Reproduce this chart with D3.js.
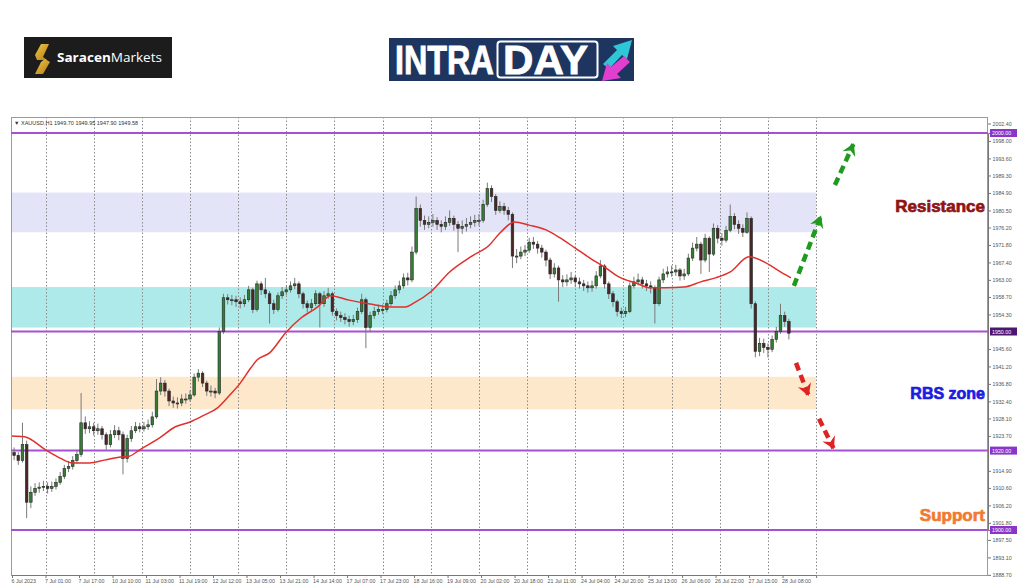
<!DOCTYPE html>
<html><head><meta charset="utf-8">
<script src="https://cdn.jsdelivr.net/npm/d3@7"></script>
<style>html,body{margin:0;padding:0;background:#fff;} svg{display:block;}</style>
</head><body>
<svg id="c" width="1024" height="587"></svg>
<script>
// ---------------- DATA ----------------
const symbolTitle = "\u25BC XAUUSD,H1  1949.70 1949.95 1947.90 1949.58";
const firstOpen = 1919.5;
// 2-hour candles (bar index in hours = 2k..2k+1)
const closes = [
1918.8,1917.5,1921.5,1907,1909.5,1910.5,1910.8,1911,1910.5,1911,
1912,1913.5,1915.5,1916,1917.5,1919,1927,1925.5,1926,1925,
1925.5,1924,1921.5,1924,1925,1924,1918,1923,1925,1926,
1925.5,1926,1926.5,1928.5,1935,1937,1935,1932.5,1932,1932,
1933,1933,1934,1938.5,1939.5,1937,1935,1935,1934.5,1950,
1958.5,1958,1958,1957.5,1957,1958,1960.5,1955.5,1962,1960.5,
1959.5,1957,1955.5,1959,1960,1960.5,1961.5,1962,1959.5,1957,
1956,1957,1959.5,1957,1959,1959.5,1955,1954,1953.5,1953,
1952.5,1953,1955,1958,1951,1954,1955,1955.5,1955.5,1957,
1959,1960.5,1961.5,1963.5,1963,1970,1981,1978,1977,1977.5,
1978,1977,1976.5,1977.5,1978.5,1977,1976,1976.5,1977,1977.5,
1978,1978,1982,1986,1984,1980.5,1981.5,1980.5,1979.5,1969,
1969,1970,1970.5,1972.5,1972,1971,1970,1968,1964.5,1966,
1963,1962.5,1963,1963.5,1962.5,1962,1961.5,1961,1961.5,1964,
1966.5,1962,1959.5,1957.5,1955,1954.5,1955,1961.5,1962.5,1963,
1962,1961.5,1961,1957,1963,1964.5,1965,1965,1965.5,1964,
1964.5,1968.5,1971,1972,1968,1973.5,1969.5,1976,1973.5,1973,
1975.5,1979,1977,1976,1975,1978.5,1957,1945,1947,1946,
1945.5,1948,1950,1954,1952.5,1949.58];
const highs = [
1920.8,1919.6,1927,1922.5,1911,1911.8,1912,1912.4,1912,1912.2,
1913,1914.6,1916.4,1917.4,1918.6,1920.2,1934.5,1928.6,1927.4,1927,
1926.8,1926.2,1924.6,1925.2,1926.4,1926,1924.8,1924,1926.2,1927.2,
1927,1927.2,1927.8,1929.8,1938,1938.5,1937.8,1935.6,1933.6,1933.4,
1934.2,1934.4,1935.2,1939.4,1940.5,1940,1937.6,1936.4,1935.8,1951,
1959.5,1959.4,1959.2,1959,1958.6,1959.2,1961.5,1961,1962.8,1962.6,
1963.5,1960.2,1958,1959.8,1961.2,1961.6,1962.6,1963.5,1962.6,1960,
1957.8,1958.2,1960.4,1960,1960.2,1961,1960,1955.8,1955,1954.6,
1954,1954.2,1956,1959.5,1958.6,1955,1956.2,1956.8,1956.8,1958,
1960.2,1961.6,1962.8,1964.6,1964.8,1971.4,1984,1982,1979.2,1979,
1979.6,1978.8,1978,1979,1980.5,1979.2,1977.8,1978,1978.6,1979,
1979.4,1979.6,1983.2,1987.5,1986.8,1984.6,1982.8,1982.4,1981.4,1980,
1970.8,1971.4,1971.8,1973.6,1973.8,1972.8,1971.8,1970.6,1968.6,1967.2,
1966.6,1964.2,1964.4,1965,1964.2,1963.6,1963,1962.6,1962.8,1965.2,
1968,1967,1962.6,1960.2,1958,1956,1956.2,1962.4,1963.8,1964.6,
1963.8,1963,1962.6,1961.6,1963.8,1965.8,1966.4,1966.6,1966.8,1966,
1965.8,1969.6,1972.4,1973.8,1972.6,1974.6,1974,1977.2,1976.8,1974.8,
1976.6,1982,1979.8,1978,1977,1980,1979,1957.6,1948.4,1948.2,
1947,1949,1951.2,1957,1955,1953.2];
const lows = [
1917.6,1916.4,1917,1903,1905.5,1908.6,1909.4,1909.8,1909.2,1909.6,
1910.2,1911.4,1912.8,1914.6,1915.2,1916.8,1918.4,1924.2,1924.4,1923.8,
1924,1922.8,1920.2,1920.8,1923.2,1922.6,1914,1917,1922.2,1924.4,
1924.6,1924.8,1925.2,1925.8,1928,1934,1933.6,1931.2,1930.8,1930.6,
1931.2,1931.8,1932.4,1933.6,1937.4,1936,1933.8,1933.6,1933.2,1934,
1949.4,1956.8,1956.6,1956.2,1955.8,1956.2,1957.4,1954.6,1955,1959.2,
1958.4,1952,1954.4,1955,1958.2,1959.2,1959.8,1960.6,1958.4,1955.8,
1954.8,1955.2,1956.4,1951,1956.2,1958.2,1954,1952.8,1952.4,1951.8,
1951.2,1951.6,1952.2,1954.4,1945.8,1949.8,1953.2,1954.2,1954.4,1954.8,
1956.4,1958.2,1959.6,1960.8,1961.6,1962.4,1969.4,1976.4,1975.6,1976,
1976.4,1975.6,1975,1975.6,1976.6,1975.4,1970,1974.6,1975.2,1976,
1976.4,1976.6,1977.4,1981.4,1982.6,1979.4,1979.8,1979.4,1978,1966,
1967.2,1968.2,1969,1969.8,1970.8,1969.6,1968.6,1966.4,1963.2,1963.6,
1957.5,1961.2,1961.4,1962,1961.2,1960.8,1960.2,1959.8,1960,1960.8,
1963.4,1960.8,1958.2,1956.2,1953.8,1953.4,1953.6,1954.6,1960.8,1961.6,
1960.8,1960.2,1959.6,1952,1956.4,1962.2,1963.6,1963.8,1964,1962.8,
1963,1964,1967.8,1970.2,1964.5,1967.4,1965,1969,1972.2,1971.6,
1972.4,1975,1975.8,1974.6,1973.8,1974.6,1955.8,1943.5,1943.8,1944.6,
1943.5,1944.8,1947.2,1949.4,1951.2,1948];
// moving average (read at hourly bar indices)
const maBars = [0,6,16,23,29,37,44,52,56,61,71,78,85,92,98,104,109,114,117,123,131,138,146,152,161,171,181,188,192,200,209,219,228,233,240,247,255,262,269,276,283,290,298,305,312,321,329,336,343,352,360,367,372];
const maValues = [1923.7,1923.5,1920.2,1918.1,1916.9,1916.9,1917.6,1918.4,1918.6,1920.2,1923.4,1926,1927.2,1929,1930.7,1934,1937,1940.8,1942.8,1944.6,1949.9,1953.4,1956.2,1959,1957.9,1956.9,1956.2,1956.2,1957.2,1960,1965,1968.8,1971.8,1974.8,1977.6,1976.8,1975.6,1973.5,1971,1968.5,1966.2,1963.7,1962.2,1961,1961,1961.2,1962.5,1963.5,1965,1968.8,1967.3,1965,1963.5];
const timeLabels = ["6 Jul 2023","7 Jul 01:00","7 Jul 17:00","10 Jul 10:00","11 Jul 03:00","11 Jul 19:00","12 Jul 12:00","13 Jul 05:00","13 Jul 21:00","14 Jul 14:00","17 Jul 07:00","17 Jul 23:00","18 Jul 16:00","19 Jul 09:00","20 Jul 02:00","20 Jul 18:00","21 Jul 11:00","24 Jul 04:00","24 Jul 20:00","25 Jul 13:00","26 Jul 06:00","26 Jul 22:00","27 Jul 15:00","28 Jul 08:00"];
const timeLabelBars = timeLabels.map((d,i)=>i*16);
const dayGridBars = [16,39,62,85,108,131,154,177,200,223,246,269,292,315,338,361,384];
const priceTicks = [2002.40,1998.00,1993.60,1989.30,1984.90,1980.50,1976.20,1971.80,1967.40,1963.00,1958.70,1954.30,1945.60,1941.20,1936.80,1932.40,1928.10,1923.70,1914.90,1910.60,1906.20,1901.80,1897.50,1893.10,1888.70];
const levelLines = [2000,1950,1920,1900];
const zoneNames = ["resistance","mid","rbs"];
const zoneLow = [1975,1951,1930.4];
const zoneHigh = [1985,1961.2,1938.6];
const zoneEndBar = 384;
const arrowNames = ["up1","up2","down1","down2"];
const arrowFrom = [[373.4,1961.5],[393,1986.9],[374.4,1942.1],[385.4,1928]];
const arrowTo = [[386.2,1979],[401.8,1997.2],[380.3,1934],[392.3,1920.6]];
const sideLabels = ["Resistance","RBS zone","Support"];
const sideLabelPrice = [1981.3,1934.0,1903.3];

// ---------------- STYLE ----------------
const zoneFill = {resistance:"#e4e4f8", mid:"#aeeaea", rbs:"#fde8cc"};
const arrowColor = {up1:"#1f9a1f", up2:"#1f9a1f", down1:"#e02222", down2:"#e02222"};
const sideColor = ["#8f1414","#1c1ce0","#f27a30"];
const sideSize = [17,16,17];

const svg = d3.select("#c");
const L = 11, R = 988, T = 117, B = 575;
const x = d3.scaleLinear().domain([0,384]).range([12, 12+384*2.094]);
const y = d3.scaleLinear().domain([1900,2000]).range([530,133]);

// ---------- header logos ----------
const hdr = svg.append("g");
hdr.append("rect").attr("x",24).attr("y",37).attr("width",148).attr("height",41).attr("fill","#1c1c1c");
const defs = svg.append("defs");
const gg = defs.append("linearGradient").attr("id","gold").attr("x1",0).attr("y1",0).attr("x2",1).attr("y2",1);
gg.append("stop").attr("offset","0").attr("stop-color","#f3c94a");
gg.append("stop").attr("offset","1").attr("stop-color","#b07a12");
hdr.append("path").attr("d","M41,44 L49,44 L43,57 L47,60 L37,60 L35,55 Z").attr("fill","url(#gold)");
hdr.append("path").attr("d","M45,59 L50,62 L43,74 L35,74 L41,62 Z").attr("fill","url(#gold)");
const st = hdr.append("text").attr("x",57).attr("y",62).attr("font-family","Open Sans, sans-serif").attr("font-size",13).attr("fill","#fff")
  .attr("textLength",105).attr("lengthAdjust","spacingAndGlyphs");
st.append("tspan").attr("font-weight","bold").text("Saracen");
st.append("tspan").attr("font-weight","normal").text("Markets");

hdr.append("rect").attr("x",389).attr("y",38).attr("width",245).attr("height",43).attr("fill","#1d355f");
hdr.append("text").attr("transform","translate(395,74) scale(0.98,1.22)").attr("font-family","Liberation Sans, Arial, sans-serif").attr("font-weight","bold")
  .attr("font-size",33).attr("fill","#fff").attr("stroke","#fff").attr("stroke-width",0.7).text("INTRA");
hdr.append("rect").attr("x",497.5).attr("y",41.5).attr("width",100).attr("height",36).attr("rx",3).attr("fill","none").attr("stroke","#fff").attr("stroke-width",2);
hdr.append("text").attr("transform","translate(503,74) scale(1.17,1.12)").attr("font-family","Liberation Sans, Arial, sans-serif").attr("font-weight","bold")
  .attr("font-size",36).attr("fill","#fff").attr("stroke","#fff").attr("stroke-width",0.7).text("DAY");
hdr.append("path").attr("d","M603,64 L617,50 L613,46 L632,40 L627,59 L622,55 L609,69 Z").attr("fill","#2fc6d8");
hdr.append("path").attr("d","M630,62 L617,74 L621,78 L602,81 L607,63 L611,67 L624,56 Z").attr("fill","#e23fcf");

// ---------- chart frame ----------
const chart = svg.append("g");
defs.append("clipPath").attr("id","plot").append("rect").attr("x",L).attr("y",T).attr("width",R-L).attr("height",B-T);

// zones
chart.append("g").selectAll("rect").data(zoneNames).join("rect")
  .attr("x",L).attr("width",(d)=>x(zoneEndBar)-L)
  .attr("y",(d,i)=>y(zoneHigh[i])).attr("height",(d,i)=>y(zoneLow[i])-y(zoneHigh[i]))
  .attr("fill",d=>zoneFill[d]);

// day grid
chart.append("g").selectAll("line").data(dayGridBars).join("line")
  .attr("x1",d=>Math.round(x(d))+0.5).attr("x2",d=>Math.round(x(d))+0.5).attr("y1",T).attr("y2",B)
  .attr("stroke","#8a8a8a").attr("stroke-width",1).attr("stroke-dasharray","1.5,2");

// frame
chart.append("rect").attr("x",L+0.5).attr("y",T+0.5).attr("width",R-L-1).attr("height",B-T).attr("fill","none").attr("stroke","#9a9a9a").attr("stroke-width",1);

// level lines
chart.append("g").selectAll("line").data(levelLines).join("line")
  .attr("x1",L).attr("x2",R).attr("y1",d=>y(d)).attr("y2",d=>y(d))
  .attr("stroke","#a451d6").attr("stroke-width",2);

// candles
const candles = closes.map((c,k)=>({k, o: k===0?firstOpen:closes[k-1], c, h:highs[k], l:lows[k]}));
const cg = chart.append("g").attr("clip-path","url(#plot)");
cg.selectAll("line.w").data(candles).join("line").attr("class","w")
  .attr("x1",d=>x(2*d.k+1)).attr("x2",d=>x(2*d.k+1))
  .attr("y1",d=>y(Math.max(d.h,d.o,d.c))).attr("y2",d=>y(Math.min(d.l,d.o,d.c)))
  .attr("stroke","#7a7a7a").attr("stroke-width",1);
cg.selectAll("rect.b").data(candles).join("rect").attr("class","b")
  .attr("x",d=>x(2*d.k+1)-1.3).attr("width",2.6)
  .attr("y",d=>y(Math.max(d.o,d.c))).attr("height",d=>Math.max(1,y(Math.min(d.o,d.c))-y(Math.max(d.o,d.c))))
  .attr("fill",d=>d.c>=d.o?"#357f35":"#4a2626").attr("stroke","#262626").attr("stroke-width",0.6);

// MA
chart.append("path").datum(maBars.map((b,i)=>[b,maValues[i]]))
  .attr("d",d3.line().x(d=>x(d[0])).y(d=>y(d[1])).curve(d3.curveMonotoneX))
  .attr("fill","none").attr("stroke","#e0302c").attr("stroke-width",1.5);

// title
chart.append("text").attr("x",14).attr("y",124.5).attr("font-family","Liberation Sans, Arial, sans-serif").attr("font-size",5.5).attr("fill","#333").text(symbolTitle);

// price axis
const ya = chart.append("g").attr("transform",`translate(${R},0)`)
  .call(d3.axisRight(y).tickValues(priceTicks).tickFormat(d3.format(".2f")).tickSize(3).tickPadding(1.5));
ya.select(".domain").attr("stroke","#777");
ya.selectAll(".tick line").attr("stroke","#777");
ya.selectAll(".tick text").attr("font-family","Liberation Sans, Arial, sans-serif").attr("font-size",5.3).attr("fill","#555");

// time axis
const xa = chart.append("g").attr("transform",`translate(0,${B})`)
  .call(d3.axisBottom(x).tickValues(timeLabelBars).tickFormat((d,i)=>timeLabels[i]).tickSize(3).tickPadding(1.5));
xa.select(".domain").attr("stroke","#777");
xa.selectAll(".tick line").attr("stroke","#777");
xa.selectAll(".tick text").attr("text-anchor","start").attr("dx",-1).attr("font-family","Liberation Sans, Arial, sans-serif").attr("font-size",5.3).attr("fill","#555");

// level labels
const lab = chart.append("g").selectAll("g").data(levelLines).join("g").attr("transform",d=>`translate(${R+2},${y(d)})`);
lab.append("rect").attr("x",0).attr("y",-4).attr("width",27).attr("height",8).attr("fill",(d,i)=>i===1?"#4e1670":"#8a35c8");
lab.append("text").attr("x",2).attr("y",2).attr("font-family","Liberation Sans, Arial, sans-serif").attr("font-size",5.3).attr("fill","#fff").text(d=>d3.format(".2f")(d));

// arrows
arrowNames.forEach(n=>{
  defs.append("marker").attr("id","m_"+n).attr("viewBox","-12 -8 14 16").attr("refX",0).attr("refY",0)
    .attr("markerUnits","userSpaceOnUse").attr("markerWidth",14).attr("markerHeight",16).attr("orient","auto")
    .append("path").attr("d","M1,0 L-11,-7 L-7,0 L-11,7 Z").attr("fill",arrowColor[n]);
});
chart.append("g").selectAll("line").data(arrowNames).join("line")
  .attr("x1",(d,i)=>x(arrowFrom[i][0])).attr("y1",(d,i)=>y(arrowFrom[i][1]))
  .attr("x2",(d,i)=>x(arrowTo[i][0])).attr("y2",(d,i)=>y(arrowTo[i][1]))
  .attr("stroke",d=>arrowColor[d]).attr("stroke-width",4.5).attr("stroke-dasharray","8,5")
  .attr("marker-end",d=>`url(#m_${d})`);

// side labels
chart.append("g").selectAll("text").data(sideLabels).join("text")
  .attr("x",985).attr("y",(d,i)=>y(sideLabelPrice[i])).attr("text-anchor","end").attr("dominant-baseline","middle")
  .attr("font-family","Liberation Sans, Arial, sans-serif").attr("font-weight","bold")
  .attr("font-size",(d,i)=>sideSize[i]).attr("fill",(d,i)=>sideColor[i])
  .attr("stroke",(d,i)=>sideColor[i]).attr("stroke-width",0.7).text(d=>d);
</script>
</body></html>
